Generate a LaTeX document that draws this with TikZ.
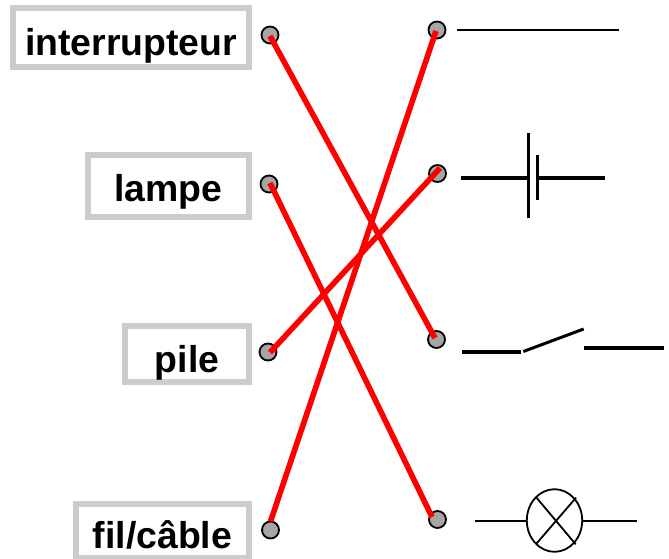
\documentclass[tikz,border=0pt]{standalone}
\usepackage{fontspec}
\setmainfont{Liberation Sans}
\definecolor{boxgrey}{HTML}{CCCCCC}
\definecolor{dotgrey}{HTML}{A6A6A6}
\tikzset{
  labelbox/.style={draw=boxgrey, line width=6pt, inner sep=0pt, outer sep=0pt, font=\fontsize{37.4}{41}\selectfont\bfseries, anchor=center},
  dot/.style={circle, draw=black, line width=1.8pt, fill=dotgrey, minimum size=17pt, inner sep=0pt, outer sep=0pt},
  wire/.style={draw=red, line width=5.6pt, line cap=butt},
  sym/.style={draw=black, line cap=butt}
}
\begin{document}
\begin{tikzpicture}[x=1pt,y=-1pt]
\useasboundingbox (0,0) rectangle (669,559);
% labels
\node[labelbox, minimum width=236pt, text height=47.7pt, text depth=11.3pt] (tint) at (131,37.5) {interrupteur};
\node[labelbox, minimum width=161pt, text height=46.7pt, text depth=15.3pt] (tlamp) at (168.5,186) {lampe};
\node[labelbox, minimum width=124pt, text height=46.4pt, text depth=9.6pt] (tpile) at (187,354) {pile};
\node[labelbox, minimum width=173pt, text height=44.7pt, text depth=9.3pt] (tfil) at (162.5,531) {fil/câble};
% dots
\node[dot] (l1) at (270,35) {};
\node[dot] (l2) at (269,184) {};
\node[dot] (l3) at (268,352) {};
\node[dot] (l4) at (270.5,530) {};
\node[dot] (r1) at (437,30) {};
\node[dot] (r2) at (437.5,173.5) {};
\node[dot] (r3) at (436.5,339.5) {};
\node[dot] (r4) at (437.5,519.5) {};
% connectors
\draw[wire] ([shift={(0,1)}]l1.center) -- ([shift={(-1.5,-1.5)}]r3.center);
\draw[wire] ([shift={(1,-1)}]l2.center) -- ([shift={(-5.5,-2.5)}]r4.center);
\draw[wire] ([shift={(2,0.5)}]l3.center) -- ([shift={(2.5,-5.5)}]r2.center);
\draw[wire] (l4.north) -- ([shift={(-1,1)}]r1.center);
% wire symbol
\draw[sym, line width=1.8pt] (456.5,30.3) -- (618.5,30.3);
% battery symbol
\draw[sym, line width=4pt] (461,177.8) -- (528.3,177.8) (537.3,177.8) -- (605,177.8);
\draw[sym, line width=3pt] (528.3,133) -- (528.3,218) (537.3,155) -- (537.3,200);
% switch symbol
\draw[sym, line width=4pt] (462,351.7) -- (521,351.7) (584,347.7) -- (664,347.7);
\draw[sym, line width=3pt] (523.3,351.5) -- (583.7,329);
% lamp symbol
\draw[sym, line width=1.8pt] (475,521) -- (527,521) (582.5,521) -- (637,521);
\draw[sym, line width=1.8pt] (554.5,520.5) ellipse [x radius=27.7pt, y radius=31.3pt];
\draw[sym, line width=1.8pt] (535.7,496.7) -- (575.7,544.3) (576,497.7) -- (536.7,543.3);
\end{tikzpicture}
\end{document}
